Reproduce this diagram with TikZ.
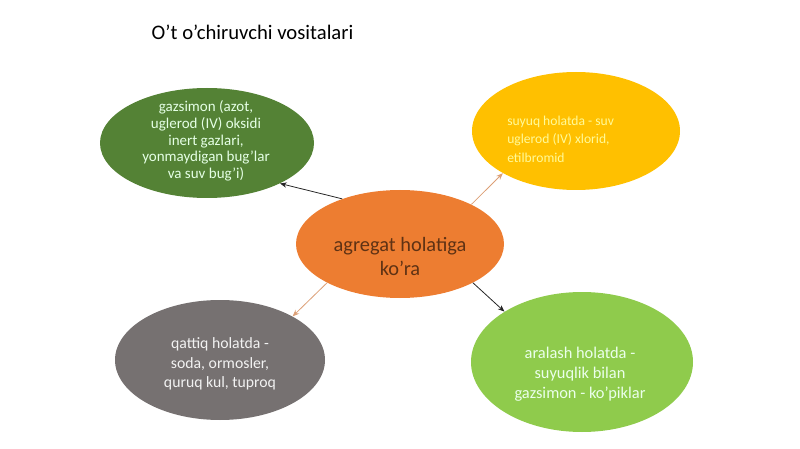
\documentclass[tikz,border=0pt]{standalone}
\usepackage{fontspec}
\setmainfont{Carlito}
\usetikzlibrary{shapes.geometric,arrows.meta}
\definecolor{cGreen}{HTML}{548235}
\definecolor{cYellow}{HTML}{FFC000}
\definecolor{cOrange}{HTML}{ED7D31}
\definecolor{cGray}{HTML}{767171}
\definecolor{cLight}{HTML}{8FCB4C}
\definecolor{cArrowO}{HTML}{F4B183}
\begin{document}
\begin{tikzpicture}[x=0.75pt,y=-0.75pt,
  blob/.style={ellipse,inner sep=0pt,draw=none},
  lbl/.style={inner sep=0pt,align=center},
  arrowb/.style={-{Stealth[length=5pt,width=4pt]},line width=0.6pt,black!85},
  arrowo/.style={-{Stealth[length=5pt,width=4pt]},line width=0.6pt,cArrowO!90!black}]
\useasboundingbox (0,0) rectangle (800,449);
\node[anchor=west,font=\fontsize{15.5pt}{18pt}\selectfont] (title) at (147,32) {O’t o’chiruvchi vositalari};

\node[blob,fill=cGreen,minimum width=160.5pt,minimum height=82.5pt] (g) at (207,143) {};
\node[blob,fill=cYellow,minimum width=156pt,minimum height=88.5pt] (y) at (576,131) {};
\node[blob,fill=cOrange,minimum width=156pt,minimum height=81pt] (o) at (400,244) {};
\node[blob,fill=cGray,minimum width=157.5pt,minimum height=90pt] (q) at (220,360) {};
\node[blob,fill=cLight,minimum width=166.5pt,minimum height=105pt] (l) at (582,362) {};

\node[lbl,text=green!10!white,font=\fontsize{11.25pt}{12.6pt}\selectfont] (gt) at (206,141) {gazsimon (azot,\\uglerod (IV) oksidi\\inert gazlari,\\yonmaydigan bug’lar\\va suv bug’i)};
\node[lbl,align=left,anchor=west,text=yellow!40!white,font=\fontsize{10.2pt}{13.9pt}\selectfont] (yt) at (507,139) {suyuq holatda - suv\\uglerod (IV) xlorid,\\etilbromid};
\node[lbl,text=cOrange!40!black,font=\fontsize{15.3pt}{18pt}\selectfont] (ot) at (400,256) {agregat holatiga\\ko’ra};
\node[lbl,text=white!95!black,font=\fontsize{11.8pt}{14.6pt}\selectfont] (qt) at (220,364) {qattiq holatda -\\soda, ormosler,\\quruq kul, tuproq};
\node[lbl,text=green!8!white,font=\fontsize{12.3pt}{15pt}\selectfont] (lt) at (580,374) {aralash holatda -\\suyuqlik bilan\\gazsimon - ko’piklar};

\draw[arrowb] (o.142) -- (g.-29);
\draw[arrowo] (o.29) -- (y.-150);
\draw[arrowb] (o.-28) -- (l.147);
\draw[arrowo] (o.-152) -- (q.31);
\end{tikzpicture}
\end{document}
